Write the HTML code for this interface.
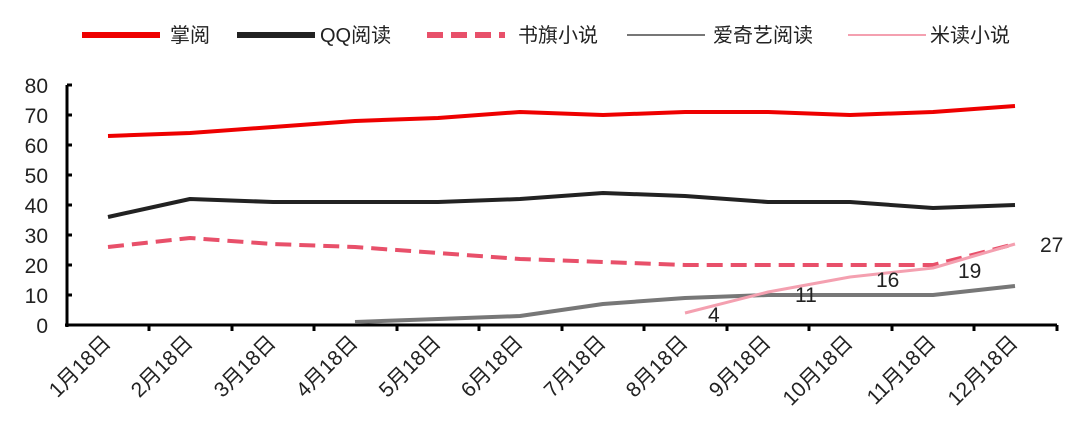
<!DOCTYPE html><html><head><meta charset="utf-8"><style>body{margin:0;background:#fff}svg{display:block}text{font-family:"Liberation Sans","Noto Sans CJK SC",sans-serif}</style></head><body>
<svg width="1080" height="421" viewBox="0 0 1080 421">
<g font-size="20" fill="#222">
<line x1="82" y1="35" x2="160" y2="35" stroke="#e00" stroke-width="6"/><text x="170" y="42">掌阅</text>
<line x1="237" y1="35" x2="315" y2="35" stroke="#222" stroke-width="6"/><text x="320" y="42">QQ阅读</text>
<line x1="427" y1="35" x2="505" y2="35" stroke="#e8506a" stroke-width="6" stroke-dasharray="16,8"/><text x="518" y="42">书旗小说</text>
<line x1="627" y1="35" x2="705" y2="35" stroke="#777" stroke-width="2"/><text x="713" y="42">爱奇艺阅读</text>
<line x1="848" y1="35" x2="926" y2="35" stroke="#f4a0b0" stroke-width="2"/><text x="930" y="42">米读小说</text>
</g>
<g stroke="#000" stroke-width="3"><line x1="67" y1="85" x2="67" y2="327"/><line x1="65" y1="325" x2="1057" y2="325"/>
<path d="M67 85h5M67 115h5M67 145h5M67 175h5M67 205h5M67 235h5M67 265h5M67 295h5M149 325v6M232 325v6M314 325v6M397 325v6M479 325v6M562 325v6M644 325v6M727 325v6M809 325v6M892 325v6M974 325v6M1057 325v6"/></g>
<g font-size="21" fill="#222" text-anchor="end"><text x="48" y="93">80</text><text x="48" y="123">70</text><text x="48" y="153">60</text><text x="48" y="183">50</text><text x="48" y="213">40</text><text x="48" y="243">30</text><text x="48" y="273">20</text><text x="48" y="303">10</text><text x="48" y="333">0</text></g>
<g font-size="21" fill="#222" text-anchor="end">
<text transform="translate(112,344) rotate(-45)">1月18日</text><text transform="translate(194,344) rotate(-45)">2月18日</text><text transform="translate(277,344) rotate(-45)">3月18日</text><text transform="translate(359,344) rotate(-45)">4月18日</text><text transform="translate(442,344) rotate(-45)">5月18日</text><text transform="translate(524,344) rotate(-45)">6月18日</text><text transform="translate(607,344) rotate(-45)">7月18日</text><text transform="translate(689,344) rotate(-45)">8月18日</text><text transform="translate(772,344) rotate(-45)">9月18日</text><text transform="translate(854,344) rotate(-45)">10月18日</text><text transform="translate(937,344) rotate(-45)">11月18日</text><text transform="translate(1019,344) rotate(-45)">12月18日</text></g>
<g fill="none" stroke-linejoin="round">
<polyline stroke="#e00" stroke-width="4" points="108,136 190,133 273,127 355,121 438,118 520,112 603,115 685,112 768,112 850,115 933,112 1015,106"/>
<polyline stroke="#222" stroke-width="4" points="108,217 190,199 273,202 355,202 438,202 520,199 603,193 685,196 768,202 850,202 933,208 1015,205"/>
<polyline stroke="#e8506a" stroke-width="4" stroke-dasharray="16,8" points="108,247 190,238 273,244 355,247 438,253 520,259 603,262 685,265 768,265 850,265 933,265 1015,244"/>
<polyline stroke="#777" stroke-width="4" points="355,322 438,319 520,316 603,304 685,298 768,295 850,295 933,295 1015,286"/>
<polyline stroke="#f4a0b0" stroke-width="3" points="685,313 768,292 850,277 933,268 1015,244"/>
</g>
<g font-size="21" fill="#222"><text x="708" y="322">4</text><text x="795" y="302">11</text><text x="876" y="287">16</text><text x="958" y="278">19</text><text x="1040" y="252">27</text></g>
</svg></body></html>
